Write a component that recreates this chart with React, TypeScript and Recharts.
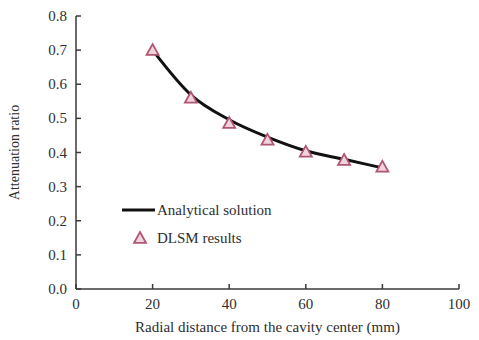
import {
  ComposedChart,
  Line,
  Scatter,
  XAxis,
  YAxis,
} from "recharts";

const radialDistance = [20, 30, 40, 50, 60, 70, 80];
const analytical = [0.7, 0.569, 0.496, 0.445, 0.405, 0.38, 0.355];
const dlsm = [0.7, 0.56, 0.486, 0.437, 0.402, 0.378, 0.358];
const xTicks = [0, 20, 40, 60, 80, 100];
const yTicks = [0, 0.1, 0.2, 0.3, 0.4, 0.5, 0.6, 0.7, 0.8];

const data = radialDistance.map((r, i) => ({
  r,
  analytical: analytical[i],
  dlsm: dlsm[i],
}));

const FONT = "'Liberation Serif', 'DejaVu Serif', serif";
const AXIS = "#3a3a3a";
const TEXT = "#2e2e2e";
const TRI_STROKE = "#b05672";
const TRI_FILL = "#f1d3dd";

const Triangle = (props: any) => {
  const { cx, cy } = props;
  if (cx == null || cy == null) return null;
  const s = 6;
  return (
    <path
      d={`M${cx},${cy - s} L${cx + s},${cy + s * 0.8} L${cx - s},${cy + s * 0.8} Z`}
      fill={TRI_FILL}
      stroke={TRI_STROKE}
      strokeWidth={1.8}
    />
  );
};

// ticks point into the plot, so draw them ourselves
const YTick = (props: any) => {
  const { x, y, payload } = props;
  const ax = x + 8;
  return (
    <g>
      <line x1={ax} y1={y} x2={ax + 5} y2={y} stroke={AXIS} strokeWidth={1.5} />
      <text x={x - 1} y={y} dy={5} textAnchor="end" fontFamily={FONT} fontSize={15} fill={TEXT}>
        {Number(payload.value).toFixed(1)}
      </text>
    </g>
  );
};

const XTick = (props: any) => {
  const { x, y, payload } = props;
  const ay = y - 8;
  return (
    <g>
      <line x1={x} y1={ay} x2={x} y2={ay - 5} stroke={AXIS} strokeWidth={1.5} />
      <text x={x} y={y} dy={12} textAnchor="middle" fontFamily={FONT} fontSize={15} fill={TEXT}>
        {payload.value}
      </text>
    </g>
  );
};

const LegendBox = () => (
  <svg
    width={200}
    height={50}
    style={{ position: "absolute", left: 117, top: 200, overflow: "visible" }}
  >
    <line x1={5} y1={10} x2={38} y2={10} stroke="#111" strokeWidth={3} />
    <text x={40} y={15} fontFamily={FONT} fontSize={15} fill={TEXT}>
      Analytical solution
    </text>
    <Triangle cx={23} cy={38} />
    <text x={40} y={43} fontFamily={FONT} fontSize={15} fill={TEXT}>
      DLSM results
    </text>
  </svg>
);

export default function App() {
  return (
    <div style={{ position: "absolute", left: 0, top: 0, background: "#fff" }}>
      <ComposedChart
        width={479}
        height={340}
        data={data}
        margin={{ top: 16, right: 20, left: 0, bottom: 6 }}
      >
        <XAxis
          dataKey="r"
          type="number"
          domain={[0, 100]}
          ticks={xTicks}
          stroke={AXIS}
          strokeWidth={1.5}
          tickLine={false}
          tickSize={0}
          tickMargin={8}
          tick={<XTick />}
          height={45}
          label={{
            value: "Radial distance from the cavity center (mm)",
            position: "insideBottom",
            offset: 2,
            style: { fontFamily: FONT, fontSize: 15, fill: TEXT },
          }}
        />
        <YAxis
          type="number"
          domain={[0, 0.8]}
          ticks={yTicks}
          stroke={AXIS}
          strokeWidth={1.5}
          tickLine={false}
          tickSize={0}
          tickMargin={8}
          tick={<YTick />}
          width={76}
          label={{
            value: "Attenuation ratio",
            angle: -90,
            position: "insideLeft",
            offset: 14,
            style: { fontFamily: FONT, fontSize: 14, fill: TEXT, textAnchor: "middle" },
          }}
        />
        <Line
          dataKey="analytical"
          type="monotone"
          stroke="#111"
          strokeWidth={3}
          dot={false}
          isAnimationActive={false}
        />
        <Scatter dataKey="dlsm" shape={<Triangle />} isAnimationActive={false} />
      </ComposedChart>
      <LegendBox />
    </div>
  );
}
